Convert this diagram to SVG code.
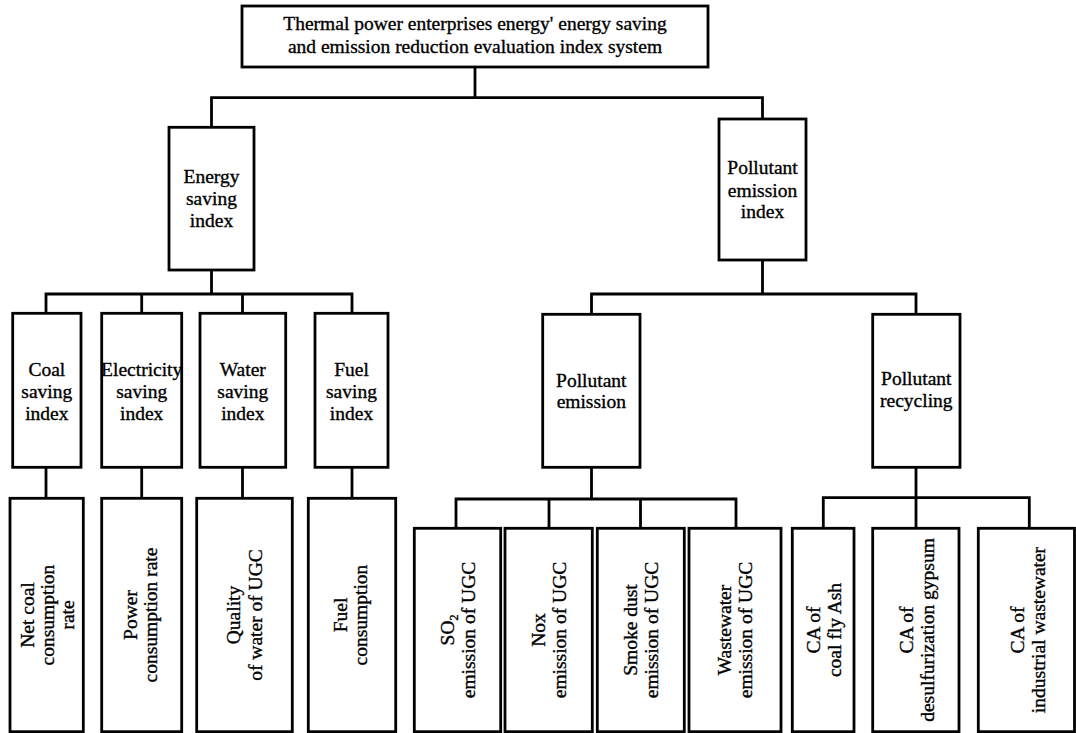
<svg xmlns="http://www.w3.org/2000/svg" width="1076" height="733" viewBox="0 0 1076 733">
<style>
.box{fill:#fff;stroke:#000;stroke-width:2.8}
.conn{fill:none;stroke:#000;stroke-width:2.8}
text{font-family:"Liberation Serif","Times New Roman",serif;font-size:19.5px;fill:#000;stroke:#000;stroke-width:0.35;text-anchor:middle}
</style>
<rect width="1076" height="733" fill="#fff"/>
<g id="connectors">
<path class="conn" d="M475,67V97.7M211.5,127.3V97.7H762.5V119"/>
<path class="conn" d="M211.5,270V294M46,313.3V294H352V313.3M141.7,294V313.3M242.5,294V313.3"/>
<path class="conn" d="M46,467.3V498.3M141.7,467.3V498.3M242.5,467.3V498.3M352,467.3V498.3"/>
<path class="conn" d="M762.5,260V294M591.5,314.3V294H916V314.3"/>
<path class="conn" d="M591.5,467.3V499M456,528.3V499H736V528.3M549,499V528.3M640.5,499V528.3"/>
<path class="conn" d="M916,467.3V497.7M823.3,528.3V497.7H1029.3V528.3M916,497.7V528.3"/>
</g>
<g id="root">
<rect class="box" x="242" y="6" width="466" height="61"/>
<text x="475" y="30">Thermal power enterprises energy' energy saving</text>
<text x="475" y="53">and emission reduction evaluation index system</text>
</g>
<g id="energy-saving-index">
<rect class="box" x="169" y="127.3" width="85" height="142.7"/>
<text x="211.5" y="183.3">Energy</text>
<text x="211.5" y="205">saving</text>
<text x="211.5" y="226.7">index</text>
</g>
<g id="pollutant-emission-index">
<rect class="box" x="719" y="119" width="87" height="141"/>
<text x="762.5" y="174.3">Pollutant</text>
<text x="762.5" y="196.7">emission</text>
<text x="762.5" y="218.3">index</text>
</g>
<g id="coal-saving-index">
<rect class="box" x="12.7" y="313.3" width="68.3" height="154"/>
<text x="46.8" y="376">Coal</text>
<text x="46.8" y="398">saving</text>
<text x="46.8" y="419.5">index</text>
</g>
<g id="electricity-saving-index">
<rect class="box" x="101.7" y="313.3" width="80" height="154"/>
<text x="141.7" y="376">Electricity</text>
<text x="141.7" y="398">saving</text>
<text x="141.7" y="419.5">index</text>
</g>
<g id="water-saving-index">
<rect class="box" x="200" y="313.3" width="85.7" height="154"/>
<text x="242.8" y="376">Water</text>
<text x="242.8" y="398">saving</text>
<text x="242.8" y="419.5">index</text>
</g>
<g id="fuel-saving-index">
<rect class="box" x="315" y="313.3" width="73" height="154"/>
<text x="351.5" y="376">Fuel</text>
<text x="351.5" y="398">saving</text>
<text x="351.5" y="419.5">index</text>
</g>
<g id="pollutant-emission">
<rect class="box" x="542.7" y="314.3" width="97.3" height="153"/>
<text x="591.3" y="386.7">Pollutant</text>
<text x="591.3" y="408.3">emission</text>
</g>
<g id="pollutant-recycling">
<rect class="box" x="872.7" y="314.3" width="87.3" height="153"/>
<text x="916.3" y="385">Pollutant</text>
<text x="916.3" y="406.7">recycling</text>
</g>
<g id="net-coal">
<rect class="box" x="10" y="498.3" width="73.3" height="233.4"/>
<text transform="translate(46.7,615) rotate(-90)"><tspan x="0" y="-13">Net coal</tspan><tspan x="0" y="7">consumption</tspan><tspan x="0" y="27">rate</tspan></text>
</g>
<g id="power-consumption">
<rect class="box" x="101.7" y="498.3" width="80" height="233.4"/>
<text transform="translate(141.7,615) rotate(-90)"><tspan x="0" y="-5">Power</tspan><tspan x="0" y="15">consumption rate</tspan></text>
</g>
<g id="quality-water">
<rect class="box" x="196.7" y="498.3" width="95.6" height="233.4"/>
<text transform="translate(244.5,615) rotate(-90)"><tspan x="0" y="-5">Quality</tspan><tspan x="0" y="17">of water of UGC</tspan></text>
</g>
<g id="fuel-consumption">
<rect class="box" x="308.3" y="498.3" width="87.4" height="233.4"/>
<text transform="translate(352,615) rotate(-90)"><tspan x="0" y="-5">Fuel</tspan><tspan x="0" y="15">consumption</tspan></text>
</g>
<g id="so2-emission">
<rect class="box" x="414.3" y="528.3" width="86.4" height="203.4"/>
<text transform="translate(457.5,630) rotate(-90)"><tspan x="0" y="-4">SO<tspan font-size="12" dy="4">2</tspan></tspan><tspan x="0" y="17">emission of UGC</tspan></text>
</g>
<g id="nox-emission">
<rect class="box" x="505" y="528.3" width="87.3" height="203.4"/>
<text transform="translate(548.7,630) rotate(-90)"><tspan x="0" y="-4">Nox</tspan><tspan x="0" y="17">emission of UGC</tspan></text>
</g>
<g id="smoke-dust-emission">
<rect class="box" x="597.3" y="528.3" width="87" height="203.4"/>
<text transform="translate(640.8,630) rotate(-90)"><tspan x="0" y="-4">Smoke dust</tspan><tspan x="0" y="17">emission of UGC</tspan></text>
</g>
<g id="wastewater-emission">
<rect class="box" x="689" y="528.3" width="92" height="203.4"/>
<text transform="translate(735,630) rotate(-90)"><tspan x="0" y="-4">Wastewater</tspan><tspan x="0" y="17">emission of UGC</tspan></text>
</g>
<g id="ca-coal-fly-ash">
<rect class="box" x="792.3" y="528.3" width="61.7" height="203.4"/>
<text transform="translate(823,630) rotate(-90)"><tspan x="0" y="-3">CA of</tspan><tspan x="0" y="18">coal fly Ash</tspan></text>
</g>
<g id="ca-desulfurization-gypsum">
<rect class="box" x="872.7" y="528.3" width="86.3" height="203.4"/>
<text transform="translate(915.8,630) rotate(-90)"><tspan x="0" y="-3">CA of</tspan><tspan x="0" y="18">desulfurization gypsum</tspan></text>
</g>
<g id="ca-industrial-wastewater">
<rect class="box" x="978.3" y="528.3" width="96.2" height="203.4"/>
<text transform="translate(1026.7,630) rotate(-90)"><tspan x="0" y="-3">CA of</tspan><tspan x="0" y="18">industrial wastewater</tspan></text>
</g>
</svg>
